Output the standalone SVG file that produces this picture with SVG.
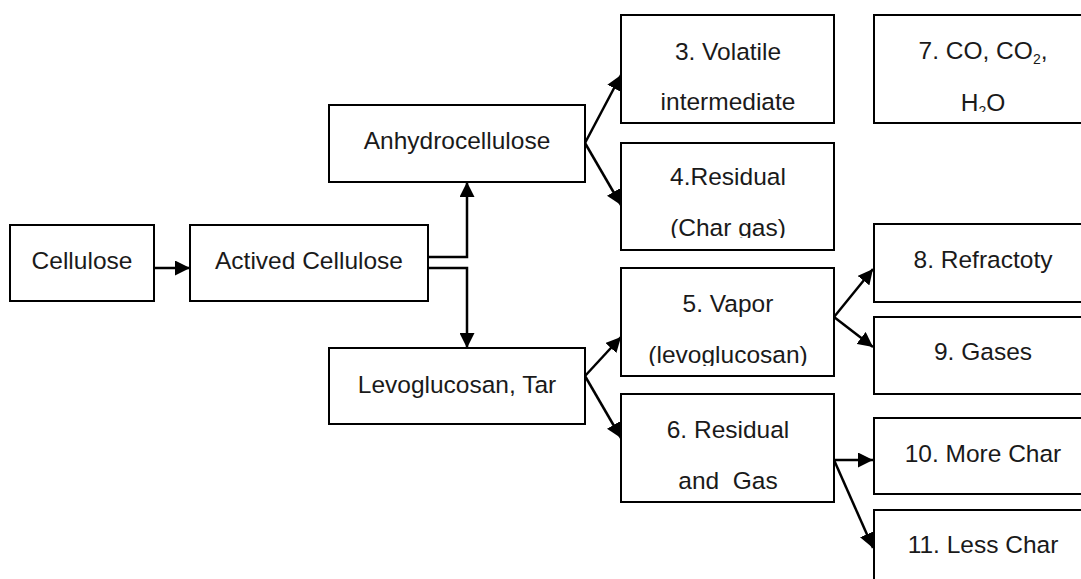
<svg xmlns="http://www.w3.org/2000/svg" width="1081" height="579" viewBox="0 0 1081 579">
  <style>
    .box { fill: #ffffff; stroke: #000000; stroke-width: 2; }
    .lbl { font-family: "Liberation Sans", Arial, sans-serif; font-size: 24.5px; fill: #1a1a1a; text-anchor: middle; }
    .sub { font-size: 14px; }
    .conn { fill: none; stroke: #000000; stroke-width: 2.5; marker-end: url(#arrow); }
  </style>
  <defs>
    <marker id="arrow" markerUnits="userSpaceOnUse" markerWidth="15" markerHeight="15" refX="15" refY="7.5" orient="auto">
      <path d="M0,0 L15,7.5 L0,15 z" fill="#000000"/>
    </marker>
    <!-- text areas that end a little above their box's bottom edge -->
    <clipPath id="clip3"><rect x="621" y="15" width="213" height="97"/></clipPath>
    <clipPath id="clip4"><rect x="621" y="143" width="213" height="95"/></clipPath>
    <clipPath id="clip5"><rect x="621" y="268" width="213" height="98"/></clipPath>
    <clipPath id="clip6"><rect x="621" y="394" width="213" height="98"/></clipPath>
    <clipPath id="clip7"><rect x="874" y="15" width="220" height="97"/></clipPath>
  </defs>

  <rect width="1081" height="579" fill="#ffffff"/>

  <g id="connectors">
    <path class="conn" d="M154,268 L190,268"/>
    <path class="conn" d="M428,257 H467 V182"/>
    <path class="conn" d="M428,268 H467 V348"/>
    <path class="conn" d="M585,143 L621,75"/>
    <path class="conn" d="M585,143 L621,205"/>
    <path class="conn" d="M585,376 L621,337"/>
    <path class="conn" d="M585,376 L621,438"/>
    <path class="conn" d="M834,317 L873,269"/>
    <path class="conn" d="M834,317 L873,347"/>
    <path class="conn" d="M834,460 L873,460"/>
    <path class="conn" d="M834,460 L873,548"/>
  </g>

  <g id="cellulose">
    <rect class="box" x="10" y="225" width="144" height="76"/>
    <text class="lbl" x="82" y="269">Cellulose</text>
  </g>

  <g id="actived-cellulose">
    <rect class="box" x="190" y="225" width="238" height="76"/>
    <text class="lbl" x="309" y="269">Actived Cellulose</text>
  </g>

  <g id="anhydrocellulose">
    <rect class="box" x="329" y="105" width="256" height="77"/>
    <text class="lbl" x="457" y="149">Anhydrocellulose</text>
  </g>

  <g id="levoglucosan-tar">
    <rect class="box" x="329" y="348" width="256" height="76"/>
    <text class="lbl" x="457" y="393">Levoglucosan, Tar</text>
  </g>

  <g id="volatile-intermediate">
    <rect class="box" x="621" y="15" width="213" height="108"/>
    <g clip-path="url(#clip3)">
      <text class="lbl" x="728" y="60">3. Volatile</text>
      <text class="lbl" x="728" y="110">intermediate</text>
    </g>
  </g>

  <g id="residual-char-gas">
    <rect class="box" x="621" y="143" width="213" height="107"/>
    <g clip-path="url(#clip4)">
      <text class="lbl" x="728" y="185">4.Residual</text>
      <text class="lbl" x="728" y="236">(Char gas)</text>
    </g>
  </g>

  <g id="vapor">
    <rect class="box" x="621" y="268" width="213" height="108"/>
    <g clip-path="url(#clip5)">
      <text class="lbl" x="728" y="312">5. Vapor</text>
      <text class="lbl" x="728" y="363">(levoglucosan)</text>
    </g>
  </g>

  <g id="residual-and-gas">
    <rect class="box" x="621" y="394" width="213" height="108"/>
    <g clip-path="url(#clip6)">
      <text class="lbl" x="728" y="438">6. Residual</text>
      <text class="lbl" x="728" y="489" xml:space="preserve">and  Gas</text>
    </g>
  </g>

  <g id="co-co2-h2o">
    <rect class="box" x="874" y="15" width="220" height="108"/>
    <g clip-path="url(#clip7)">
      <text class="lbl" x="983" y="59">7. CO, CO<tspan class="sub" dy="5">2</tspan><tspan dy="-5">,</tspan></text>
      <text class="lbl" x="983" y="111">H<tspan class="sub" dy="5">2</tspan><tspan dy="-5">O</tspan></text>
    </g>
  </g>

  <g id="refractoty">
    <rect class="box" x="874" y="224" width="220" height="78"/>
    <text class="lbl" x="983" y="268">8. Refractoty</text>
  </g>

  <g id="gases">
    <rect class="box" x="874" y="317" width="220" height="77"/>
    <text class="lbl" x="983" y="360">9. Gases</text>
  </g>

  <g id="more-char">
    <rect class="box" x="874" y="418" width="220" height="76"/>
    <text class="lbl" x="983" y="462">10. More Char</text>
  </g>

  <g id="less-char">
    <rect class="box" x="874" y="510" width="220" height="80"/>
    <text class="lbl" x="983" y="553">11. Less Char</text>
  </g>
</svg>
